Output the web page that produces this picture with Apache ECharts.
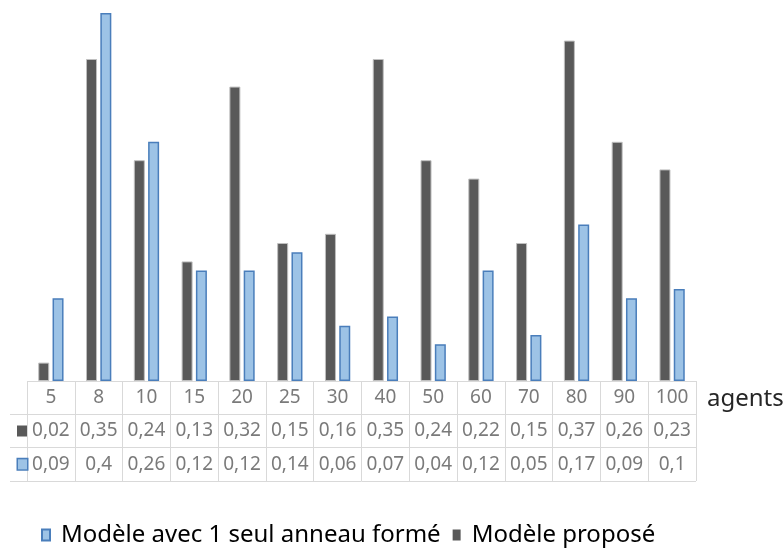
<!DOCTYPE html>
<html>
<head>
<meta charset="utf-8">
<script src="https://cdn.jsdelivr.net/npm/echarts@6/dist/echarts.min.js"></script>
<style>
  html, body { margin: 0; padding: 0; background: #fff; }
  #main { width: 784px; height: 549px; }
</style>
</head>
<body>
<div id="main"></div>
<script>
const categories = ['5', '8', '10', '15', '20', '25', '30', '40', '50', '60', '70', '80', '90', '100'];
const proposed = [0.02, 0.35, 0.24, 0.13, 0.32, 0.15, 0.16, 0.35, 0.24, 0.22, 0.15, 0.37, 0.26, 0.23];
const singleRing = [0.09, 0.4, 0.26, 0.12, 0.12, 0.14, 0.06, 0.07, 0.04, 0.12, 0.05, 0.17, 0.09, 0.1];
const tableRows = ['cat', 'dark', 'blue'];

const NAME_BLUE = 'Modèle avec 1 seul anneau formé';
const NAME_DARK = 'Modèle proposé';

// french decimal comma
const fmt = v => String(v).replace('.', ',');

const tableData = [];
for (let i = 0; i < categories.length; i++) {
  tableData.push([i, 'cat', categories[i]]);
  tableData.push([i, 'dark', fmt(proposed[i])]);
  tableData.push([i, 'blue', fmt(singleRing[i])]);
}

const chart = echarts.init(document.getElementById('main'));
const gridLine = '#d9d9d9';

const option = {
  animation: false,
  textStyle: { fontFamily: 'Noto Sans' },
  title: {
    text: 'agents',
    left: 702,
    top: 382,
    textStyle: { fontSize: 24, fontWeight: 'normal', color: '#262626', fontFamily: 'Noto Sans' }
  },
  legend: {
    data: [
      { name: NAME_BLUE },
      { name: NAME_DARK, itemStyle: { borderWidth: 0 } }
    ],
    left: 36,
    top: 518,
    icon: 'rect',
    itemWidth: 8,
    itemHeight: 11,
    itemGap: 12,
    textStyle: { fontSize: 24, color: '#000', fontFamily: 'Noto Sans', padding: [0, 0, 0, 6] }
  },
  grid: [
    { left: 27, right: 88, top: 13, bottom: 168 },
    { left: 27, right: 88, top: 381, height: 100 }
  ],
  xAxis: [
    { type: 'category', gridIndex: 0, data: categories, show: false },
    {
      type: 'category', gridIndex: 1, data: categories,
      axisLine: { show: false }, axisTick: { show: false }, axisLabel: { show: false },
      splitLine: { show: true, lineStyle: { color: gridLine, width: 1 } }
    }
  ],
  yAxis: [
    { type: 'value', gridIndex: 0, min: 0, max: 0.4, show: false },
    {
      type: 'category', gridIndex: 1, data: tableRows, inverse: true,
      axisLine: { show: false },
      axisTick: {
        show: true, length: 17,
        interval: (idx) => idx !== 0,
        lineStyle: { color: gridLine }
      },
      axisLabel: {
        margin: 0,
        formatter: v => v === 'dark' ? '{d|}' : (v === 'blue' ? '{b|}' : ''),
        rich: {
          d: { width: 10, height: 11, backgroundColor: '#595959' },
          b: { width: 9, height: 10, backgroundColor: '#9dc3e6', borderColor: '#4a7ebb', borderWidth: 1.5 }
        }
      },
      splitLine: { show: true, lineStyle: { color: gridLine, width: 1 } }
    }
  ],
  series: [
    {
      name: NAME_DARK,
      type: 'bar',
      xAxisIndex: 0, yAxisIndex: 0,
      barWidth: 11,
      barGap: '30%',
      itemStyle: { color: '#595959', borderColor: '#bfbfbf', borderWidth: 1 },
      data: proposed
    },
    {
      name: NAME_BLUE,
      type: 'bar',
      xAxisIndex: 0, yAxisIndex: 0,
      barWidth: 11,
      itemStyle: { color: '#9dc3e6', borderColor: '#4a7ebb', borderWidth: 1.5 },
      data: singleRing
    },
    {
      name: 'table',
      type: 'scatter',
      xAxisIndex: 1, yAxisIndex: 1,
      symbolSize: 0,
      silent: true,
      label: {
        show: true,
        position: 'inside',
        formatter: p => p.value[2],
        fontSize: 19,
        color: '#595959',
        fontFamily: 'Noto Sans'
      },
      data: tableData
    }
  ]
};

chart.setOption(option);
</script>
</body>
</html>
